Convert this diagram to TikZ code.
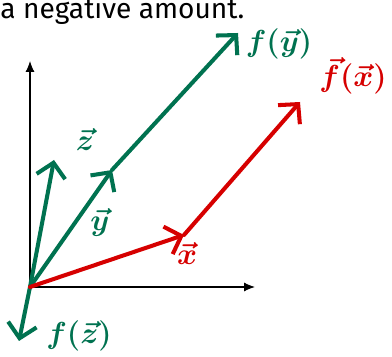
\documentclass[tikz,border=0pt]{standalone}
\usepackage{fontspec}
\setmainfont{Fira Sans}
\usepackage{amsmath}
\usetikzlibrary{arrows.meta,positioning}
\definecolor{penGreen}{RGB}{0,114,80}
\definecolor{penRed}{RGB}{214,0,0}

\begin{document}
\begin{tikzpicture}[
    x=0.02cm, y=-0.02cm,
    axis/.style={draw, line width=0.6pt, -{Latex[length=2.2mm,width=1.8mm]}},
    pen/.style={line width=2.3pt, line cap=round,
                -{Straight Barb[length=2.8mm,width=5.8mm,line width=2.3pt]}},
    greenvec/.style={pen, penGreen},
    redvec/.style={pen, penRed},
    handlbl/.style={font=\fontsize{19}{22}\selectfont\boldmath, inner sep=0pt}
]
    \useasboundingbox (0,0) rectangle (392,357);

    \node[anchor=base west, inner sep=0pt, font=\fontsize{16}{19}\selectfont] (caption) at (0,19) {a negative amount.};

    % axes
    \coordinate (O) at (30,287);
    \coordinate (xEnd) at (255,287);
    \coordinate (yEnd) at (30,61);
    \draw[axis] (O) -- (xEnd);
    \draw[axis] (O) -- (yEnd);

    % vector tips
    \coordinate (zTip) at (54,160);
    \coordinate (yTip) at (112,170);
    \coordinate (fyTip) at (238,33);
    \coordinate (fzTip) at (19,341);
    \coordinate (xTip) at (184,235);
    \coordinate (fxTip) at (300,102);

    % green vectors
    \draw[greenvec] (O) -- (zTip);
    \draw[greenvec] (O) -- (yTip);
    \draw[greenvec] (yTip) -- (fyTip);
    \draw[greenvec] (O) -- (fzTip);

    % red vectors
    \draw[redvec] (O) -- (xTip);
    \draw[redvec] (xTip) -- (fxTip);

    % labels
    \node[handlbl, text=penGreen] (zLbl) at (85,140) {$\vec{z}$};
    \node[handlbl, text=penGreen] (yLbl) at (100,222) {$\vec{y}$};
    \node[handlbl, text=penGreen] (fyLbl) at (279,44) {$f(\vec{y})$};
    \node[handlbl, text=penGreen] (fzLbl) at (79,336) {$f(\vec{z})$};
    \node[handlbl, text=penRed] (xLbl) at (187,254) {$\vec{x}$};
    \node[handlbl, text=penRed] (fxLbl) at (353,76) {$\vec{f}(\vec{x})$};
\end{tikzpicture}
\end{document}
